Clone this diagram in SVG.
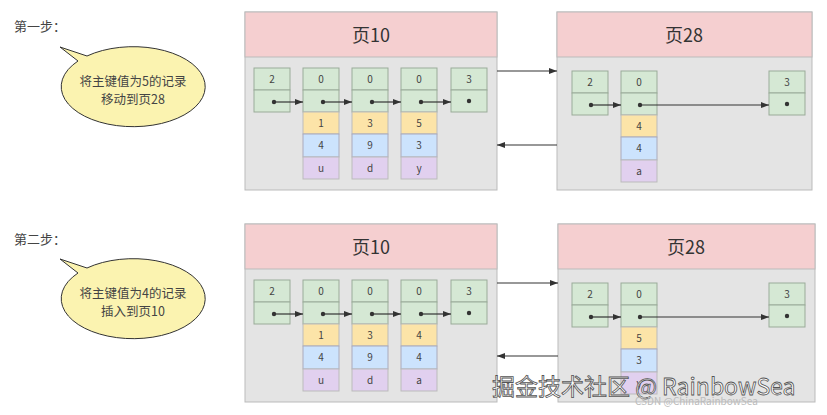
<svg xmlns="http://www.w3.org/2000/svg" width="827" height="415" viewBox="0 0 827 415">
<defs>
<style>
text{font-family:"Noto Sans CJK SC","Liberation Sans",sans-serif;fill:#444}
.pg{fill:#e4e4e4;stroke:#bbb}
.hd{fill:#f5cfd0;stroke:#bbb}
.g{fill:#d5e8d4;stroke:#9aab99}
.y{fill:#fce4a8;stroke:#bbb}
.b{fill:#cce3fd;stroke:#aab}
.p{fill:#e1d0ef;stroke:#bbb}
.t{font-size:10px;text-anchor:middle}
.h{font-size:18px;text-anchor:middle;fill:#333}
.ln{stroke:#333;stroke-width:1.2;fill:none}
.d{fill:#333}
.bub{fill:#fbf3b0;stroke:#333;stroke-width:1}
</style>
<marker id="a" markerWidth="8" markerHeight="6" refX="8" refY="3" orient="auto" markerUnits="userSpaceOnUse"><path d="M0,0L8,3L0,6z" fill="#333"/></marker>
</defs>
<rect width="827" height="415" fill="#fff"/>

<!-- STEP 1 -->
<g id="step1">
<text x="14" y="31" font-size="13" fill="#333">第一步：</text>
<g id="bubble1">
<path class="bub" d="M60,47 L78,61 A72,40 0 1 0 87,56 Z"/>
<text x="133" y="86" font-size="12.5" text-anchor="middle">将主键值为5的记录</text>
<text x="133" y="104" font-size="12.5" text-anchor="middle">移动到页28</text>
</g>
<g id="page10a">
<rect class="pg" x="245" y="12" width="252" height="178"/>
<rect class="hd" x="245" y="12" width="252" height="45"/>
<text class="h" x="371" y="42">页10</text>
<rect class="g" x="254" y="68" width="36" height="22"/><rect class="g" x="254" y="90" width="36" height="22"/><text class="t" x="272" y="83">2</text>
<rect class="g" x="303" y="68" width="36" height="22"/><rect class="g" x="303" y="90" width="36" height="22"/><text class="t" x="321" y="83">0</text>
<rect class="y" x="303" y="112" width="36" height="22"/><text class="t" x="321" y="127">1</text>
<rect class="b" x="303" y="134" width="36" height="23"/><text class="t" x="321" y="149">4</text>
<rect class="p" x="303" y="157" width="36" height="22"/><text class="t" x="321" y="172">u</text>
<rect class="g" x="352" y="68" width="36" height="22"/><rect class="g" x="352" y="90" width="36" height="22"/><text class="t" x="370" y="83">0</text>
<rect class="y" x="352" y="112" width="36" height="22"/><text class="t" x="370" y="127">3</text>
<rect class="b" x="352" y="134" width="36" height="23"/><text class="t" x="370" y="149">9</text>
<rect class="p" x="352" y="157" width="36" height="22"/><text class="t" x="370" y="172">d</text>
<rect class="g" x="401" y="68" width="36" height="22"/><rect class="g" x="401" y="90" width="36" height="22"/><text class="t" x="419" y="83">0</text>
<rect class="y" x="401" y="112" width="36" height="22"/><text class="t" x="419" y="127">5</text>
<rect class="b" x="401" y="134" width="36" height="23"/><text class="t" x="419" y="149">3</text>
<rect class="p" x="401" y="157" width="36" height="22"/><text class="t" x="419" y="172">y</text>
<rect class="g" x="451" y="68" width="36" height="22"/><rect class="g" x="451" y="90" width="36" height="22"/><text class="t" x="469" y="83">3</text>
<circle class="d" cx="274" cy="102" r="2.2"/><circle class="d" cx="323" cy="102" r="2.2"/><circle class="d" cx="372" cy="102" r="2.2"/><circle class="d" cx="421" cy="102" r="2.2"/><circle class="d" cx="469" cy="101" r="2.2"/>
</g>
<g id="page28a">
<rect class="pg" x="557" y="12" width="255" height="178"/>
<rect class="hd" x="557" y="12" width="255" height="45"/>
<text class="h" x="684" y="42">页28</text>
<rect class="g" x="572" y="71" width="36" height="22"/><rect class="g" x="572" y="93" width="36" height="22"/><text class="t" x="590" y="86">2</text>
<rect class="g" x="621" y="71" width="36" height="22"/><rect class="g" x="621" y="93" width="36" height="22"/><text class="t" x="639" y="86">0</text>
<rect class="y" x="621" y="115" width="36" height="22"/><text class="t" x="639" y="130">4</text>
<rect class="b" x="621" y="137" width="36" height="23"/><text class="t" x="639" y="152">4</text>
<rect class="p" x="621" y="160" width="36" height="22"/><text class="t" x="639" y="175">a</text>
<rect class="g" x="769" y="71" width="36" height="22"/><rect class="g" x="769" y="93" width="36" height="22"/><text class="t" x="787" y="86">3</text>
<circle class="d" cx="591" cy="105" r="2.2"/><circle class="d" cx="640" cy="105" r="2.2"/><circle class="d" cx="787" cy="104" r="2.2"/>
</g>
<g id="conn1">
<path class="ln" marker-end="url(#a)" d="M274,102H303"/>
<path class="ln" marker-end="url(#a)" d="M323,102H352"/>
<path class="ln" marker-end="url(#a)" d="M372,102H401"/>
<path class="ln" marker-end="url(#a)" d="M421,102H451"/>
<path class="ln" marker-end="url(#a)" d="M591,105H621"/>
<path class="ln" marker-end="url(#a)" d="M640,105H769"/>
<path class="ln" marker-end="url(#a)" d="M497,71H557"/>
<path class="ln" marker-end="url(#a)" d="M557,145H497"/>
</g>
</g>

<!-- STEP 2 -->
<g id="step2">
<text x="14" y="244" font-size="13" fill="#333">第二步：</text>
<g id="bubble2">
<path class="bub" d="M60,259 L78,273 A72,40 0 1 0 87,268 Z"/>
<text x="133" y="298" font-size="12.5" text-anchor="middle">将主键值为4的记录</text>
<text x="133" y="316" font-size="12.5" text-anchor="middle">插入到页10</text>
</g>
<g id="page10b">
<rect class="pg" x="245" y="224" width="252" height="178"/>
<rect class="hd" x="245" y="224" width="252" height="45"/>
<text class="h" x="371" y="254">页10</text>
<rect class="g" x="254" y="280" width="36" height="22"/><rect class="g" x="254" y="302" width="36" height="22"/><text class="t" x="272" y="295">2</text>
<rect class="g" x="303" y="280" width="36" height="22"/><rect class="g" x="303" y="302" width="36" height="22"/><text class="t" x="321" y="295">0</text>
<rect class="y" x="303" y="324" width="36" height="22"/><text class="t" x="321" y="339">1</text>
<rect class="b" x="303" y="346" width="36" height="23"/><text class="t" x="321" y="361">4</text>
<rect class="p" x="303" y="369" width="36" height="22"/><text class="t" x="321" y="384">u</text>
<rect class="g" x="352" y="280" width="36" height="22"/><rect class="g" x="352" y="302" width="36" height="22"/><text class="t" x="370" y="295">0</text>
<rect class="y" x="352" y="324" width="36" height="22"/><text class="t" x="370" y="339">3</text>
<rect class="b" x="352" y="346" width="36" height="23"/><text class="t" x="370" y="361">9</text>
<rect class="p" x="352" y="369" width="36" height="22"/><text class="t" x="370" y="384">d</text>
<rect class="g" x="401" y="280" width="36" height="22"/><rect class="g" x="401" y="302" width="36" height="22"/><text class="t" x="419" y="295">0</text>
<rect class="y" x="401" y="324" width="36" height="22"/><text class="t" x="419" y="339">4</text>
<rect class="b" x="401" y="346" width="36" height="23"/><text class="t" x="419" y="361">4</text>
<rect class="p" x="401" y="369" width="36" height="22"/><text class="t" x="419" y="384">a</text>
<rect class="g" x="451" y="280" width="36" height="22"/><rect class="g" x="451" y="302" width="36" height="22"/><text class="t" x="469" y="295">3</text>
<circle class="d" cx="274" cy="314" r="2.2"/><circle class="d" cx="323" cy="314" r="2.2"/><circle class="d" cx="372" cy="314" r="2.2"/><circle class="d" cx="421" cy="314" r="2.2"/><circle class="d" cx="469" cy="313" r="2.2"/>
</g>
<g id="page28b">
<rect class="pg" x="558" y="224" width="257" height="178"/>
<rect class="hd" x="558" y="224" width="257" height="45"/>
<text class="h" x="686" y="254">页28</text>
<rect class="g" x="572" y="283" width="36" height="22"/><rect class="g" x="572" y="305" width="36" height="22"/><text class="t" x="590" y="298">2</text>
<rect class="g" x="621" y="283" width="36" height="22"/><rect class="g" x="621" y="305" width="36" height="22"/><text class="t" x="639" y="298">0</text>
<rect class="y" x="621" y="327" width="36" height="22"/><text class="t" x="639" y="342">5</text>
<rect class="b" x="621" y="349" width="36" height="23"/><text class="t" x="639" y="364">3</text>
<rect class="p" x="621" y="372" width="36" height="22"/><text class="t" x="639" y="387">y</text>
<rect class="g" x="769" y="283" width="36" height="22"/><rect class="g" x="769" y="305" width="36" height="22"/><text class="t" x="787" y="298">3</text>
<circle class="d" cx="591" cy="317" r="2.2"/><circle class="d" cx="640" cy="317" r="2.2"/><circle class="d" cx="787" cy="316" r="2.2"/>
</g>
<g id="conn2">
<path class="ln" marker-end="url(#a)" d="M274,314H303"/>
<path class="ln" marker-end="url(#a)" d="M323,314H352"/>
<path class="ln" marker-end="url(#a)" d="M372,314H401"/>
<path class="ln" marker-end="url(#a)" d="M421,314H451"/>
<path class="ln" marker-end="url(#a)" d="M591,317H621"/>
<path class="ln" marker-end="url(#a)" d="M640,317H769"/>
<path class="ln" marker-end="url(#a)" d="M497,283H558"/>
<path class="ln" marker-end="url(#a)" d="M558,356H497"/>
</g>
</g>
<text x="492" y="395" font-size="23" stroke="#555" stroke-width="0.8" style="fill:#fff">掘金技术社区 @ RainbowSea</text>
<text x="635" y="405" font-size="10" style="fill:#bbb">CSDN @ChinaRainbowSea</text>
</svg>
